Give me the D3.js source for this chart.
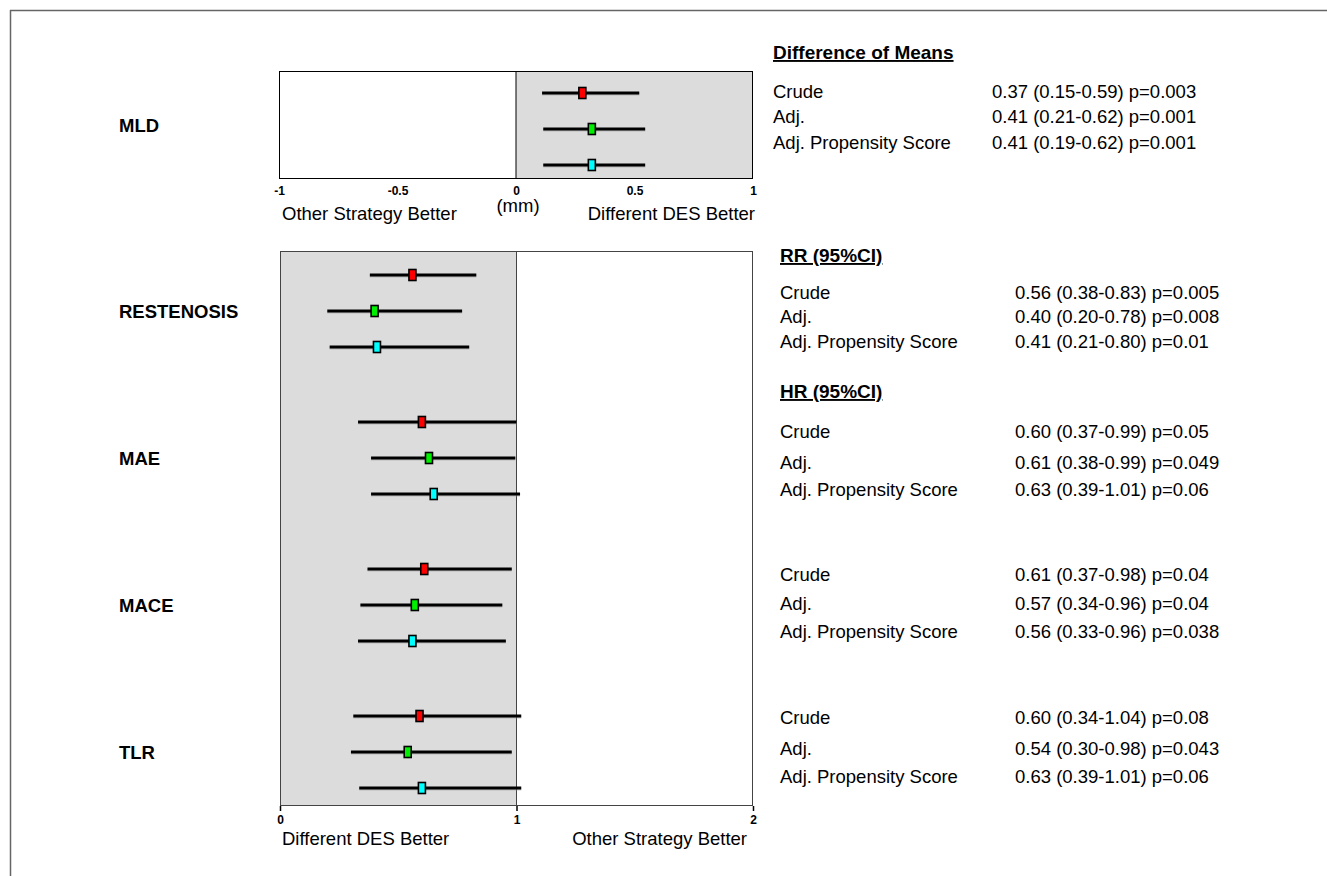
<!DOCTYPE html>
<html>
<head>
<meta charset="utf-8">
<script src="https://cdn.jsdelivr.net/npm/d3@7"></script>
<style>
  html, body { margin: 0; padding: 0; background: #fff; }
  svg { display: block; font-family: "Liberation Sans", Arial, sans-serif; }
</style>
</head>
<body>
<div id="chart"></div>
<script>
// ---------------- DATA ----------------
const seriesNames = ["Crude", "Adj.", "Adj. Propensity Score"];
const seriesColors = ["#ff0000", "#00ee00", "#00ffff"];

// top panel (difference of means, mm)
const mldLabel = "MLD";
const mldEst = [0.28, 0.32, 0.32];
const mldLo  = [0.11, 0.115, 0.115];
const mldHi  = [0.52, 0.545, 0.545];
const topTicks = [-1, -0.5, 0, 0.5, 1];

// bottom panel (ratios)
const bottomGroups = ["RESTENOSIS", "MAE", "MACE", "TLR"];
const bottomEst = [
  [0.56, 0.40, 0.41],
  [0.60, 0.63, 0.65],
  [0.61, 0.57, 0.56],
  [0.59, 0.54, 0.60]
];
const bottomLo = [
  [0.38, 0.20, 0.21],
  [0.33, 0.385, 0.385],
  [0.37, 0.34, 0.33],
  [0.31, 0.30, 0.335]
];
const bottomHi = [
  [0.83, 0.77, 0.80],
  [1.00, 0.995, 1.015],
  [0.98, 0.94, 0.955],
  [1.02, 0.98, 1.02]
];
const bottomTicks = [0, 1, 2];

// right-hand text
const sectionHeadings = ["Difference of Means", "RR (95%CI)", "HR (95%CI)"];
const mldText = ["0.37 (0.15-0.59) p=0.003", "0.41 (0.21-0.62) p=0.001", "0.41 (0.19-0.62) p=0.001"];
const bottomText = [
  ["0.56 (0.38-0.83) p=0.005", "0.40 (0.20-0.78) p=0.008", "0.41 (0.21-0.80) p=0.01"],
  ["0.60 (0.37-0.99) p=0.05",  "0.61 (0.38-0.99) p=0.049", "0.63 (0.39-1.01) p=0.06"],
  ["0.61 (0.37-0.98) p=0.04",  "0.57 (0.34-0.96) p=0.04",  "0.56 (0.33-0.96) p=0.038"],
  ["0.60 (0.34-1.04) p=0.08",  "0.54 (0.30-0.98) p=0.043", "0.63 (0.39-1.01) p=0.06"]
];
const topAxisLabels = ["Other Strategy Better", "(mm)", "Different DES Better"];
const bottomAxisLabels = ["Different DES Better", "Other Strategy Better"];

// ---------------- LAYOUT ----------------
const W = 1327, H = 876;
const svg = d3.select("#chart").append("svg").attr("width", W).attr("height", H);

// page frame (top + left lines)
svg.append("line").attr("x1", 10).attr("y1", 10.5).attr("x2", W).attr("y2", 10.5)
  .attr("stroke", "#666").attr("stroke-width", 1.5);
svg.append("line").attr("x1", 10.5).attr("y1", 10).attr("x2", 10.5).attr("y2", H)
  .attr("stroke", "#666").attr("stroke-width", 1.5);

const topP = {x0: 279, x1: 753, y0: 71, y1: 179};
const botP = {x0: 280, x1: 753, y0: 251, y1: 806};

const xTop = d3.scaleLinear().domain([-1, 1]).range([topP.x0, topP.x1]);
const xBot = d3.scaleLinear().domain([0, 2]).range([botP.x0, botP.x1]);

const yTop = d3.scalePoint().domain(d3.range(3)).range([93, 165]);
const yGroup = d3.scaleLinear().domain([0, 3]).range([311, 752]);
const ySeriesOff = d3.scaleLinear().domain([0, 2]).range([-36, 36]);

const markerW = 7, markerH = 11;
const bodySize = 18.5, headSize = 19, labelSize = 18.5, tickFont = 12;

function drawRow(g, xs, y, est, lo, hi, color) {
  g.append("line")
    .attr("x1", xs(lo)).attr("x2", xs(hi)).attr("y1", y + 1).attr("y2", y + 1)
    .attr("stroke", "#999").attr("stroke-width", 3).attr("opacity", 0.5);
  g.append("line")
    .attr("x1", xs(lo)).attr("x2", xs(hi)).attr("y1", y).attr("y2", y)
    .attr("stroke", "#000").attr("stroke-width", 3);
  g.append("rect")
    .attr("x", xs(est) - markerW / 2).attr("y", y - markerH / 2)
    .attr("width", markerW).attr("height", markerH)
    .attr("fill", color).attr("stroke", "#000").attr("stroke-width", 1.6);
}

// ---------- TOP PANEL ----------
const gTop = svg.append("g");
gTop.append("rect").attr("x", xTop(0)).attr("y", topP.y0)
  .attr("width", xTop(1) - xTop(0)).attr("height", topP.y1 - topP.y0)
  .attr("fill", "#dcdcdc");
gTop.append("rect").attr("x", topP.x0 + 0.5).attr("y", topP.y0 + 0.5)
  .attr("width", topP.x1 - topP.x0 - 1).attr("height", topP.y1 - topP.y0 - 1)
  .attr("fill", "none").attr("stroke", "#000").attr("stroke-width", 1);
gTop.append("line").attr("x1", xTop(0)).attr("x2", xTop(0))
  .attr("y1", topP.y0).attr("y2", topP.y1).attr("stroke", "#000").attr("stroke-width", 1);
seriesNames.forEach((s, i) => drawRow(gTop, xTop, yTop(i), mldEst[i], mldLo[i], mldHi[i], seriesColors[i]));

const axTop = d3.axisBottom(xTop).tickValues(topTicks).tickSize(0).tickPadding(7)
  .tickFormat(d => String(d));
const gAxTop = svg.append("g").attr("transform", `translate(0,${topP.y1})`)
  .attr("font-size", tickFont).attr("font-weight", "bold")
  .attr("font-family", "Liberation Sans, Arial, sans-serif").call(axTop);
gAxTop.attr("font-size", tickFont).attr("font-family", "Liberation Sans, Arial, sans-serif");
gAxTop.select(".domain").remove();
gAxTop.selectAll("text").style("font-size", tickFont + "px").style("font-weight", "bold").attr("fill", "#000");

svg.append("text").attr("x", 282).attr("y", 220).attr("font-size", labelSize).text(topAxisLabels[0]);
svg.append("text").attr("x", xTop(0) + 2).attr("y", 212).attr("font-size", labelSize)
  .attr("text-anchor", "middle").text(topAxisLabels[1]);
svg.append("text").attr("x", 755).attr("y", 220).attr("font-size", labelSize)
  .attr("text-anchor", "end").text(topAxisLabels[2]);

svg.append("text").attr("x", 119).attr("y", 132).attr("font-size", labelSize)
  .attr("font-weight", "bold").text(mldLabel);

// ---------- BOTTOM PANEL ----------
const gBot = svg.append("g");
gBot.append("rect").attr("x", xBot(0)).attr("y", botP.y0)
  .attr("width", xBot(1) - xBot(0)).attr("height", botP.y1 - botP.y0)
  .attr("fill", "#dcdcdc");
gBot.append("rect").attr("x", botP.x0 + 0.5).attr("y", botP.y0 + 0.5)
  .attr("width", botP.x1 - botP.x0 - 1).attr("height", botP.y1 - botP.y0 - 1)
  .attr("fill", "none").attr("stroke", "#444").attr("stroke-width", 1);
gBot.append("line").attr("x1", xBot(1)).attr("x2", xBot(1))
  .attr("y1", botP.y0).attr("y2", botP.y1).attr("stroke", "#444").attr("stroke-width", 1);

bottomGroups.forEach((grp, gi) => {
  seriesNames.forEach((s, i) => {
    drawRow(gBot, xBot, yGroup(gi) + ySeriesOff(i),
      bottomEst[gi][i], bottomLo[gi][i], bottomHi[gi][i], seriesColors[i]);
  });
  svg.append("text").attr("x", 119).attr("y", yGroup(gi) + 7).attr("font-size", labelSize)
    .attr("font-weight", "bold").text(grp);
});

const axBot = d3.axisBottom(xBot).tickValues(bottomTicks).tickSize(5).tickPadding(4)
  .tickFormat(d => String(d));
const gAxBot = svg.append("g").attr("transform", `translate(0,${botP.y1})`).call(axBot);
gAxBot.attr("font-size", tickFont).attr("font-family", "Liberation Sans, Arial, sans-serif");
gAxBot.select(".domain").remove();
gAxBot.selectAll("line").attr("stroke", "#000").attr("stroke-width", 1.5);
gAxBot.selectAll("text").style("font-size", tickFont + "px").style("font-weight", "bold").attr("fill", "#000");

svg.append("text").attr("x", 282).attr("y", 845).attr("font-size", labelSize).text(bottomAxisLabels[0]);
svg.append("text").attr("x", 747).attr("y", 845).attr("font-size", labelSize)
  .attr("text-anchor", "end").text(bottomAxisLabels[1]);

// ---------- RIGHT TEXT ----------
function heading(x, y, t) {
  svg.append("text").attr("x", x).attr("y", y).attr("font-size", headSize)
    .attr("font-weight", "bold").attr("text-decoration", "underline").text(t);
}
function rowsText(xName, xVal, ys, vals) {
  seriesNames.forEach((s, i) => {
    svg.append("text").attr("x", xName).attr("y", ys[i]).attr("dy", "0.35em")
      .attr("font-size", bodySize).text(s);
    svg.append("text").attr("x", xVal).attr("y", ys[i]).attr("dy", "0.35em")
      .attr("font-size", bodySize).text(vals[i]);
  });
}
heading(773, 59, sectionHeadings[0]);
rowsText(773, 992, [92, 117, 143], mldText);
heading(780, 262, sectionHeadings[1]);
rowsText(780, 1015, [293, 317, 342], bottomText[0]);
heading(780, 398, sectionHeadings[2]);
rowsText(780, 1015, [432, 463, 490], bottomText[1]);
rowsText(780, 1015, [575, 604, 632], bottomText[2]);
rowsText(780, 1015, [718, 749, 777], bottomText[3]);
</script>
</body>
</html>
